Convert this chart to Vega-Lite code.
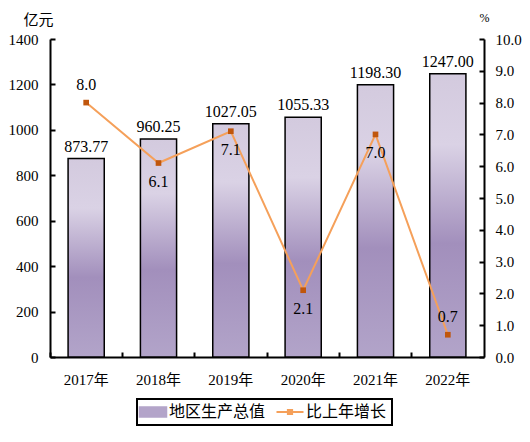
{
  "$schema": "https://vega.github.io/schema/vega-lite/v6.json",
  "width": 434,
  "height": 318,
  "autosize": {"type": "none"},
  "padding": {"left": 50, "top": 39, "right": 46, "bottom": 85},
  "background": "white",
  "config": {
    "view": {"stroke": null},
    "axis": {
      "grid": false,
      "domainColor": "black",
      "domainWidth": 2,
      "tickColor": "black",
      "tickWidth": 2,
      "labelColor": "black",
      "labelFont": "Liberation Serif",
      "labelFontSize": 15
    }
  },
  "data": {
    "values": [
      {"year": "2017年", "gdp": 873.77, "growth": 8.0},
      {"year": "2018年", "gdp": 960.25, "growth": 6.1},
      {"year": "2019年", "gdp": 1027.05, "growth": 7.1},
      {"year": "2020年", "gdp": 1055.33, "growth": 2.1},
      {"year": "2021年", "gdp": 1198.30, "growth": 7.0},
      {"year": "2022年", "gdp": 1247.00, "growth": 0.7}
    ]
  },
  "encoding": {
    "x": {
      "field": "year",
      "type": "nominal",
      "sort": null,
      "scale": {"paddingInner": 0, "paddingOuter": 0},
      "axis": {
        "title": null,
        "labelAngle": 0,
        "bandPosition": 0,
        "tickSize": -5,
        "labelPadding": 20,
        "labelFont": "Liberation Serif, Noto Sans CJK SC"
      }
    }
  },
  "layer": [
    {
      "encoding": {
        "y": {
          "field": "gdp",
          "type": "quantitative",
          "scale": {"domain": [0, 1400]},
          "axis": {
            "values": [0, 200, 400, 600, 800, 1000, 1200, 1400],
            "format": "d",
            "tickSize": -5,
            "labelPadding": 17,
            "title": "亿元",
            "titleAngle": 0,
            "titleAlign": "right",
            "titleBaseline": "middle",
            "titleX": 3,
            "titleY": -20,
            "titleFont": "Noto Sans CJK SC",
            "titleFontSize": 15,
            "titleFontWeight": "normal",
            "titleColor": "black"
          }
        }
      },
      "layer": [
        {
          "mark": {"type": "bar", "width": {"band": 0.5}, "stroke": "black", "strokeWidth": 1.5},
          "encoding": {
            "fill": {
              "value": {
                "gradient": "linear",
                "x1": 0, "y1": 0, "x2": 0, "y2": 1,
                "stops": [
                  {"offset": 0, "color": "#d3cade"},
                  {"offset": 0.25, "color": "#dad2e5"},
                  {"offset": 0.6, "color": "#a28fbc"},
                  {"offset": 1, "color": "#b2a4c9"}
                ]
              }
            }
          }
        },
        {
          "mark": {"type": "bar", "width": {"band": 0.5}, "opacity": 0},
          "encoding": {
            "color": {
              "datum": "地区生产总值",
              "scale": {"domain": ["地区生产总值", "比上年增长"], "range": ["#b3a4c9", "#f5a05a"]},
              "legend": {
                "orient": "none",
                "legendX": 87,
                "legendY": 360,
                "direction": "horizontal",
                "title": null,
                "symbolSize": 196,
                "symbolOffset": 3,
                "labelFont": "Noto Sans CJK SC",
                "labelFontSize": 16,
                "labelColor": "black",
                "labelOffset": 8,
                "columnPadding": 6,
                "padding": 5,
                "strokeColor": "black",
                "encode": {
                  "legend": {"update": {"strokeWidth": {"value": 2}}},
                  "symbols": {
                    "update": {
                      "shape": {"signal": "datum.value == '地区生产总值' ? 'M-1.93,-0.71H1.93V0.71H-1.93Z' : 'M-1.93,0H1.93M-0.3,-0.3H0.3V0.3H-0.3Z'"},
                      "fill": {"signal": "datum.value == '地区生产总值' ? '#b3a4c9' : '#c0560c'"},
                      "stroke": {"signal": "datum.value == '地区生产总值' ? 'black' : '#f5a05a'"},
                      "strokeWidth": {"signal": "datum.value == '地区生产总值' ? 1.5 : 2"},
                      "opacity": {"value": 1},
                      "fillOpacity": {"value": 1}
                    }
                  }
                }
              }
            }
          }
        },
        {
          "mark": {"type": "text", "baseline": "bottom", "dy": -4, "font": "Liberation Serif", "fontSize": 16, "color": "black"},
          "encoding": {"text": {"field": "gdp", "type": "quantitative", "format": ".2f"}}
        }
      ]
    },
    {
      "encoding": {
        "y": {
          "field": "growth",
          "type": "quantitative",
          "scale": {"domain": [0, 10]},
          "axis": {
            "orient": "right",
            "values": [0, 1, 2, 3, 4, 5, 6, 7, 8, 9, 10],
            "format": ".1f",
            "tickSize": -5,
            "labelPadding": 16,
            "title": "%",
            "titleAngle": 0,
            "titleAlign": "center",
            "titleBaseline": "middle",
            "titleX": 0,
            "titleY": -22,
            "titleFont": "Liberation Serif",
            "titleFontSize": 12,
            "titleFontWeight": "normal",
            "titleColor": "black"
          }
        }
      },
      "layer": [
        {
          "mark": {"type": "line", "strokeWidth": 2},
          "encoding": {"color": {"datum": "比上年增长"}}
        },
        {
          "mark": {"type": "square", "size": 32, "color": "#c0560c", "opacity": 1},
          "encoding": {}
        },
        {
          "transform": [{"filter": "datum.year == '2017年' || datum.year == '2022年'"}],
          "mark": {"type": "text", "baseline": "bottom", "dy": -10, "font": "Liberation Serif", "fontSize": 16, "color": "black"},
          "encoding": {"text": {"field": "growth", "type": "quantitative", "format": ".1f"}}
        },
        {
          "transform": [{"filter": "datum.year != '2017年' && datum.year != '2022年'"}],
          "mark": {"type": "text", "baseline": "top", "dy": 11, "font": "Liberation Serif", "fontSize": 16, "color": "black"},
          "encoding": {"text": {"field": "growth", "type": "quantitative", "format": ".1f"}}
        }
      ]
    }
  ],
  "resolve": {"scale": {"y": "independent"}}
}
